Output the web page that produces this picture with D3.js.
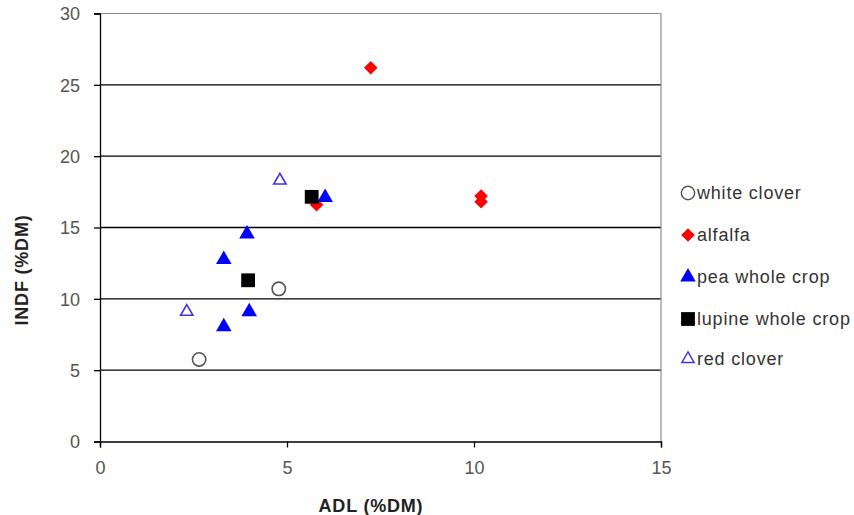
<!DOCTYPE html>
<html>
<head>
<meta charset="utf-8">
<script src="https://cdn.jsdelivr.net/npm/d3@7"></script>
<style>
  html, body { margin: 0; padding: 0; background: #fff; }
  svg { display: block; font-family: "Liberation Sans", Arial, sans-serif; }
</style>
</head>
<body>
<svg id="chart" width="854" height="515"></svg>
<script>
// ---- Data ----
const seriesNames = ["white clover", "alfalfa", "pea whole crop", "lupine whole crop", "red clover"];
const whiteCloverX = [2.65, 4.78];
const whiteCloverY = [5.75, 10.7];
const alfalfaX = [7.24, 5.79, 10.19, 10.19];
const alfalfaY = [26.2, 16.6, 17.2, 16.8];
const peaX = [6.02, 3.93, 3.31, 3.31, 3.99];
const peaY = [17.1, 14.55, 12.75, 8.05, 9.1];
const lupineX = [5.66, 3.96];
const lupineY = [17.15, 11.3];
const redCloverX = [4.81, 2.32];
const redCloverY = [18.3, 9.1];
const xTicks = [0, 5, 10, 15];
const yTicks = [0, 5, 10, 15, 20, 25, 30];

const series = [
  { name: seriesNames[0], xs: whiteCloverX, ys: whiteCloverY, type: "circle", fill: "none", stroke: "#555555", size: 140 },
  { name: seriesNames[1], xs: alfalfaX, ys: alfalfaY, type: "diamond", fill: "#ff0000", stroke: "none", size: 92 },
  { name: seriesNames[2], xs: peaX, ys: peaY, type: "triangle", fill: "#0000ff", stroke: "none", size: 105 },
  { name: seriesNames[3], xs: lupineX, ys: lupineY, type: "square", fill: "#000000", stroke: "none", size: 190 },
  { name: seriesNames[4], xs: redCloverX, ys: redCloverY, type: "triangle", fill: "none", stroke: "#4433dd", size: 66 }
];

const svg = d3.select("#chart");
const pLeft = 100, pRight = 661, pTop = 13.5, pBottom = 441.5;

const x = d3.scaleLinear().domain([0, 15]).range([pLeft, pRight]);
const y = d3.scaleLinear().domain([0, 30]).range([pBottom, pTop]);

// gridlines
svg.append("g").selectAll("line").data(yTicks.filter(d => d > 0 && d < 30)).join("line")
  .attr("x1", pLeft).attr("x2", pRight)
  .attr("y1", d => y(d)).attr("y2", d => y(d))
  .attr("stroke", "#000").attr("stroke-width", 1.3);

// frame top & right (grey)
svg.append("line").attr("x1", pLeft).attr("x2", pRight).attr("y1", y(30)).attr("y2", y(30))
  .attr("stroke", "#8a8a8a").attr("stroke-width", 1.2);
svg.append("line").attr("x1", pRight).attr("x2", pRight).attr("y1", y(30)).attr("y2", pBottom)
  .attr("stroke", "#8a8a8a").attr("stroke-width", 1.2);

// axes
const xAxis = svg.append("g").attr("transform", `translate(0,${pBottom})`)
  .call(d3.axisBottom(x).tickValues(xTicks).tickFormat(d3.format("d")).tickSize(6).tickPadding(14));
const yAxis = svg.append("g").attr("transform", `translate(${pLeft},0)`)
  .call(d3.axisLeft(y).tickValues(yTicks).tickFormat(d3.format("d")).tickSize(6).tickPadding(14));
[xAxis, yAxis].forEach(g => {
  g.select(".domain").attr("stroke", "#000").attr("stroke-width", 1.3);
  g.selectAll(".tick line").attr("stroke", "#000").attr("stroke-width", 1.3);
  g.selectAll(".tick text").attr("fill", "#555").style("font-size", "18px")
    .style("font-family", '"Liberation Sans", Arial, sans-serif');
});
yAxis.selectAll(".tick text").attr("dy", "0.36em");

// axis titles
svg.append("text").attr("x", 371).attr("y", 512).attr("text-anchor", "middle")
  .style("font-size", "18px").style("font-weight", "bold").style("letter-spacing", "0.8px")
  .attr("fill", "#222").text("ADL (%DM)");
svg.append("text").attr("transform", "translate(28,270) rotate(-90)").attr("text-anchor", "middle")
  .style("font-size", "18px").style("font-weight", "bold").style("letter-spacing", "0.8px")
  .attr("fill", "#222").text("INDF (%DM)");

function symPath(s) {
  if (s.type === "circle") return d3.symbol().type(d3.symbolCircle).size(s.size)();
  if (s.type === "square") return d3.symbol().type(d3.symbolSquare).size(s.size)();
  if (s.type === "diamond") return d3.symbol().type(d3.symbolSquare).size(s.size)();
  return d3.symbol().type(d3.symbolTriangle).size(s.size)();
}
function rot(s) { return s.type === "diamond" ? " rotate(45)" : ""; }

// points
series.forEach(s => {
  const pts = s.xs.map((v, i) => [v, s.ys[i]]);
  svg.append("g").selectAll("path").data(pts).join("path")
    .attr("d", symPath(s))
    .attr("transform", d => `translate(${x(d[0])},${y(d[1])})${rot(s)}`)
    .attr("fill", s.fill).attr("stroke", s.stroke)
    .attr("stroke-width", s.stroke === "none" ? 0 : 1.6);
});

// legend
const legY = [193, 235, 277, 319, 359];
series.forEach((s, i) => {
  const g = svg.append("g").attr("transform", `translate(688,${legY[i]})`);
  g.append("path").attr("d", symPath(s)).attr("transform", rot(s).trim())
    .attr("fill", s.fill).attr("stroke", s.stroke)
    .attr("stroke-width", s.stroke === "none" ? 0 : 1.4);
  g.append("text").attr("x", 9).attr("dy", "0.36em")
    .style("font-size", "18px").style("letter-spacing", "0.8px")
    .attr("fill", "#333").text(s.name);
});
</script>
</body>
</html>
